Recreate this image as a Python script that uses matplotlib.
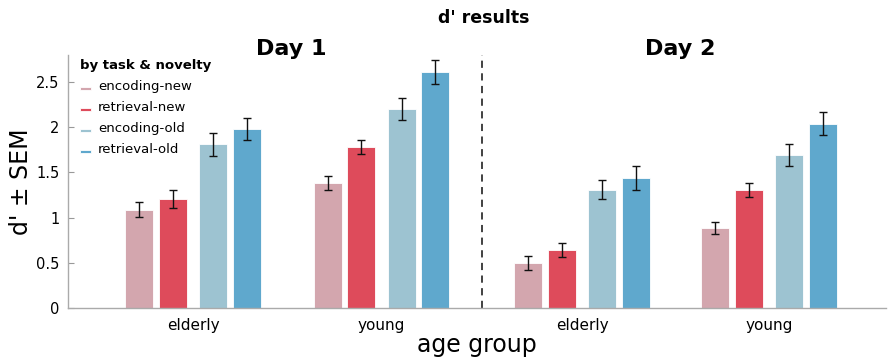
import matplotlib
matplotlib.use("Agg")
import matplotlib.pyplot as plt
import numpy as np

plt.rcParams['font.family'] = ['DejaVu Sans']

groups = ["elderly", "young", "elderly", "young"]
days = ["Day 1", "Day 2"]
series = ["encoding-new", "retrieval-new", "encoding-old", "retrieval-old"]
colors = ["#d3a6ae", "#de4b5b", "#9dc3d1", "#5fa8cd"]

# values per series across [D1 elderly, D1 young, D2 elderly, D2 young]
enc_new = [1.09, 1.38, 0.50, 0.89]
ret_new = [1.21, 1.78, 0.64, 1.31]
enc_old = [1.81, 2.20, 1.31, 1.69]
ret_old = [1.98, 2.61, 1.44, 2.04]
enc_new_sem = [0.083, 0.076, 0.077, 0.066]
ret_new_sem = [0.098, 0.080, 0.080, 0.077]
enc_old_sem = [0.127, 0.124, 0.107, 0.123]
ret_old_sem = [0.118, 0.131, 0.130, 0.129]

values = [enc_new, ret_new, enc_old, ret_old]
sems = [enc_new_sem, ret_new_sem, enc_old_sem, ret_old_sem]

pos = np.array([1.0, 2.0, 3.067, 4.06])
offsets = [-0.285, -0.108, 0.108, 0.285]
width = 0.149

fig = plt.figure(figsize=(8.9, 3.57), dpi=100)
ax = fig.add_axes([0.0761, 0.137, 0.919, 0.709])

for i in range(4):
    ax.bar(pos + offsets[i], values[i], width=width, color=colors[i],
           edgecolor='white', linewidth=0.6, label=series[i], zorder=2)
    ax.errorbar(pos + offsets[i], values[i], yerr=sems[i], fmt='none',
                ecolor='#111111', elinewidth=1.0, capsize=3, capthick=1.0, zorder=3)

ax.axvline(2.537, color='#333333', linestyle=(0, (4, 3)), linewidth=1.3, zorder=1)

ax.set_xlim(0.334, 4.68)
ax.set_ylim(0, 2.8)
ax.set_yticks([0, 0.5, 1, 1.5, 2, 2.5])
ax.set_yticklabels(["0", "0.5", "1", "1.5", "2", "2.5"])
ax.set_xticks(pos)
ax.set_xticklabels(groups)
ax.tick_params(axis='y', direction='in', length=4, color='#999999', labelsize=10.5, pad=6)
ax.tick_params(axis='x', length=0, labelsize=11, pad=7)
for s in ['top', 'right']:
    ax.spines[s].set_visible(False)
for s in ['left', 'bottom']:
    ax.spines[s].set_color('#aaaaaa')
    ax.spines[s].set_linewidth(1.0)

ax.set_ylabel("d' ± SEM", fontsize=17)
ax.yaxis.set_label_coords(-0.043, 0.5)
ax.set_xlabel("age group", fontsize=17)
ax.xaxis.set_label_coords(0.5, -0.097)

fig.text(0.543, 0.95, "d' results", ha='center', va='center', fontsize=12.5, fontweight='bold')
ax.text(1.52, 2.87, days[0], ha='center', va='center', fontsize=16, fontweight='bold')
ax.text(3.59, 2.87, days[1], ha='center', va='center', fontsize=16, fontweight='bold')

leg = ax.legend(loc='upper left', bbox_to_anchor=(0.0, 1.03), frameon=False,
                title="by task & novelty", fontsize=9.5, handlelength=0.9,
                handleheight=0.1, labelspacing=0.6, handletextpad=0.5,
                alignment='left')
leg.get_title().set_fontweight('bold')
leg.get_title().set_fontsize(9.5)
for h in leg.legend_handles:
    h.set_height(2.2)
    h.set_y(0.2)

fig.savefig("out.png", dpi=100)
